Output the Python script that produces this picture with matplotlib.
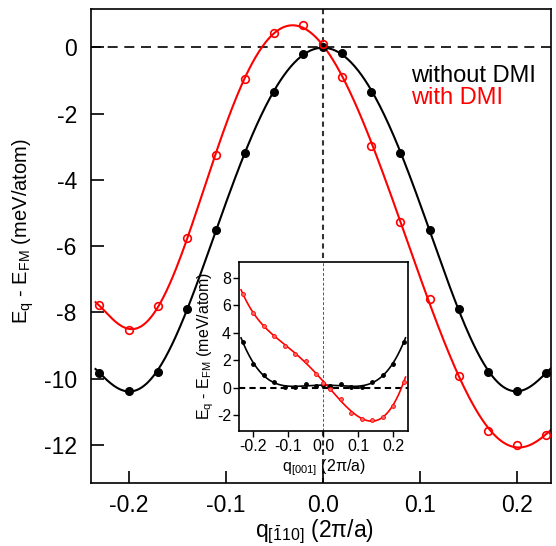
import numpy as np
import matplotlib
matplotlib.use("Agg")
import matplotlib.pyplot as plt

plt.rcParams['font.family'] = ['Liberation Sans', 'DejaVu Sans']
plt.rcParams['mathtext.fontset'] = 'custom'
plt.rcParams['mathtext.rm'] = 'Liberation Sans'
plt.rcParams['mathtext.it'] = 'Liberation Sans:italic'
plt.rcParams['axes.unicode_minus'] = False

# ---- data: main panel (q along [-110]) ----
q_main = [-0.23, -0.20, -0.17, -0.14, -0.11, -0.08, -0.05, -0.02, 0.0,
          0.02, 0.05, 0.08, 0.11, 0.14, 0.17, 0.20, 0.23]
e_noDMI = [-9.83, -10.36, -9.80, -7.90, -5.50, -3.19, -1.35, -0.20, 0.02,
           -0.18, -1.35, -3.19, -5.50, -7.90, -9.79, -10.36, -9.83]
e_DMI = [-7.79, -8.53, -7.82, -5.76, -3.24, -0.94, 0.44, 0.67, 0.09,
         -0.89, -2.98, -5.28, -7.60, -9.92, -11.59, -12.00, -11.69]

# ---- data: inset (q along [001]) ----
q_ins = q_main
i_noDMI = [3.32, 1.75, 0.92, 0.41, 0.07, 0.02, 0.24, 0.15, 0.17,
           0.15, 0.24, 0.02, 0.07, 0.41, 0.92, 1.75, 3.32]
i_DMI = [6.81, 5.45, 4.48, 3.78, 3.03, 2.47, 1.96, 0.99, 0.36,
         -0.12, -0.85, -1.82, -2.30, -2.33, -2.11, -1.33, 0.44]

main_xticks = [-0.2, -0.1, 0.0, 0.1, 0.2]
main_yticks = [0, -2, -4, -6, -8, -10, -12]
ins_yticks = [-2, 0, 2, 4, 6, 8]


def fit_curve(x, y, deg, xs):
    c = np.polyfit(x, y, deg)
    return np.polyval(c, xs)


W, H = 556, 546
fig = plt.figure(figsize=(W / 100, H / 100), dpi=100)

ax = fig.add_axes([90.7 / W, 1 - 483 / H, (551 - 90.7) / W, (483 - 9.3) / H])
ax.set_xlim(-0.239, 0.235)
ax.set_ylim(-13.15, 1.15)

ax.axhline(0, color='black', lw=1.2, dashes=(6, 4), zorder=1)
ax.axvline(0, color='#333333', lw=1.5, dashes=(2.5, 2), zorder=1)

xs = np.linspace(-0.234, 0.235, 400)
ax.plot(xs, fit_curve(q_main, e_noDMI, 8, xs), color='black', lw=1.5, zorder=2)
ax.plot(xs, fit_curve(q_main, e_DMI, 8, xs), color='red', lw=1.5, zorder=2)
ax.plot(q_main, e_noDMI, 'o', color='black', ms=5.5, zorder=3)
ax.plot(q_main, e_DMI, 'o', mfc='none', mec='red', ms=5.5, mew=1.2, zorder=3)

ax.set_xticks(main_xticks)
ax.set_xticklabels(['%.1f' % v for v in main_xticks])
ax.set_yticks(main_yticks)
ax.tick_params(direction='in', length=9, width=1.2, labelsize=16.5,
               top=False, right=False, pad=10)
ax.tick_params(axis='x', pad=8)
for s in ax.spines.values():
    s.set_linewidth(1.2)

ax.set_xlabel(r'q$_\mathrm{[\bar{1}10]}$ (2π/a)', fontsize=16.5)
ax.xaxis.set_label_coords((314 - 90.7) / (551 - 90.7), -(518 - 483) / (483 - 9.3))
ax.xaxis.label.set_va('top')
ax.set_ylabel(r'E$_\mathrm{q}$ - E$_\mathrm{FM}$ (meV/atom)', fontsize=14.5)
ax.yaxis.set_label_coords(-0.119, 0.532)

ax.text(411 / W, 1 - 82 / H, 'without DMI', transform=fig.transFigure,
        fontsize=17, color='black', va='baseline')
ax.text(411 / W, 1 - 104 / H, 'with DMI', transform=fig.transFigure,
        fontsize=17, color='red', va='baseline')

# ---- inset ----
ia = fig.add_axes([239.3 / W, 1 - 431 / H, (408.3 - 239.3) / W, (431 - 261.7) / H])
ia.set_xlim(-0.24, 0.243)
ia.set_ylim(-3.15, 9.15)
ia.axhline(0, color='black', lw=1.5, dashes=(3, 2), zorder=1)
ia.axvline(0, color='#555555', lw=0.7, dashes=(3, 2), zorder=1)
xs2 = np.linspace(-0.235, 0.235, 300)
ia.plot(xs2, fit_curve(q_ins, i_noDMI, 6, xs2), color='black', lw=1.2, zorder=2)
ia.plot(xs2, fit_curve(q_ins, i_DMI, 6, xs2), color='red', lw=1.2, zorder=2)
ia.plot(q_ins, i_noDMI, 'o', color='black', ms=2.5, zorder=3)
ia.plot(q_ins, i_DMI, 'o', color='red', mfc='#ff6666', ms=2.8, mew=0.6, zorder=3)
ia.set_xticks(main_xticks)
ia.set_xticklabels(['%.1f' % v for v in main_xticks])
ia.set_yticks(ins_yticks)
ia.tick_params(direction='out', length=4, width=1, labelsize=11.5, pad=2)
for s in ia.spines.values():
    s.set_linewidth(1.2)
ia.set_xlabel(r'q$_\mathrm{[001]}$ (2π/a)', fontsize=11.5, labelpad=2)
ia.set_ylabel(r'E$_\mathrm{q}$ - E$_\mathrm{FM}$ (meV/atom)', fontsize=11.5)
ia.yaxis.set_label_coords(-0.14, 0.5)

fig.savefig('out.png', dpi=100)
